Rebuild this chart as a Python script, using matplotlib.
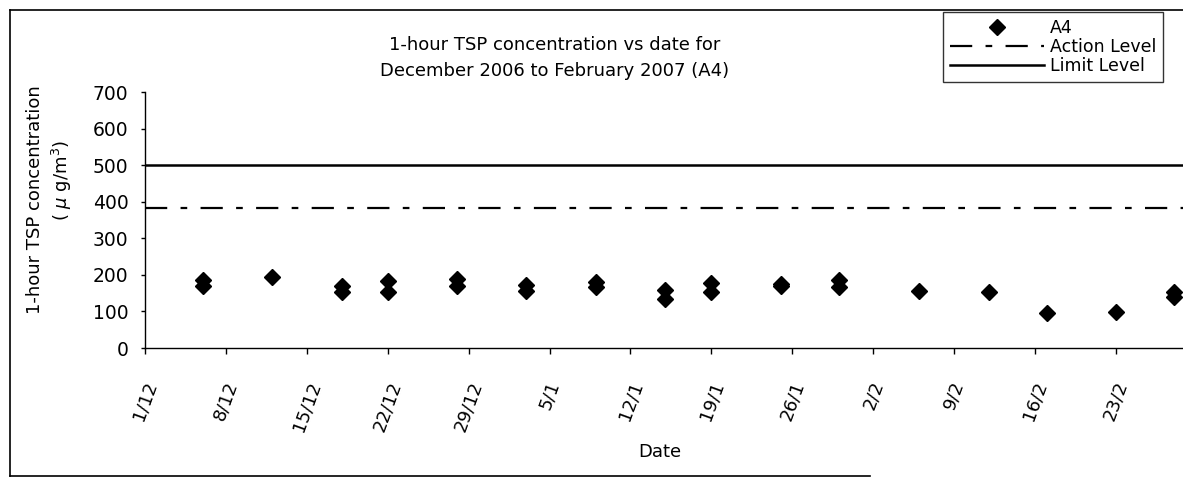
import matplotlib
matplotlib.use("Agg")
import matplotlib.pyplot as plt
import pandas as pd
from matplotlib.lines import Line2D

# ---------------- data ----------------
sample_dates = ["2006-12-06", "2006-12-06", "2006-12-12", "2006-12-18", "2006-12-18",
                "2006-12-22", "2006-12-22", "2006-12-28", "2006-12-28", "2007-01-03",
                "2007-01-03", "2007-01-09", "2007-01-09", "2007-01-15", "2007-01-15",
                "2007-01-19", "2007-01-19", "2007-01-25", "2007-01-25", "2007-01-30",
                "2007-01-30", "2007-02-06", "2007-02-12", "2007-02-17", "2007-02-23",
                "2007-02-28", "2007-02-28"]
tsp_values = [186, 170, 193, 170, 153,
              184, 153, 189, 170, 173,
              156, 181, 167, 159, 134,
              178, 153, 175, 170, 186,
              167, 156, 153, 96, 99,
              153, 140]
action_level = 384
limit_level = 500

tick_dates = ["2006-12-01", "2006-12-08", "2006-12-15", "2006-12-22", "2006-12-29",
              "2007-01-05", "2007-01-12", "2007-01-19", "2007-01-26", "2007-02-02",
              "2007-02-09", "2007-02-16", "2007-02-23"]
tick_labels = ["1/12", "8/12", "15/12", "22/12", "29/12", "5/1", "12/1", "19/1",
               "26/1", "2/2", "9/2", "16/2", "23/2"]
y_ticks = [0, 100, 200, 300, 400, 500, 600, 700]

title_text = "1-hour TSP concentration vs date for\nDecember 2006 to February 2007 (A4)"
ylabel_1 = "1-hour TSP concentration"
ylabel_2 = "( $\\mu$ g/m$^3$)"
xlabel = "Date"

# ---------------- figure ----------------
plt.rcParams["font.family"] = ["DejaVu Sans"]
W, H = 1183, 482
fig = plt.figure(figsize=(W / 100, H / 100), dpi=100)
ax = fig.add_axes([145 / W, 1 - 348 / H, (W - 145) / W, (348 - 92) / H])

x = pd.to_datetime(sample_dates)
ax.plot(x, tsp_values, linestyle="none", marker="D", markersize=8,
        color="black", label="A4", zorder=3)
ax.axhline(action_level, color="black", lw=1.6, dashes=(10, 6, 3, 6),
           label="Action Level")
ax.axhline(limit_level, color="black", lw=1.8, label="Limit Level")

x0 = pd.Timestamp("2006-12-01")
ax.set_xlim(x0, x0 + pd.Timedelta(days=89.8))
ax.set_ylim(0, 700)
ax.set_yticks(y_ticks)
ax.set_yticklabels([str(v) for v in y_ticks], fontsize=13.5)
ax.set_xticks(pd.to_datetime(tick_dates))
ax.set_xticklabels(tick_labels, rotation=70, ha="center", fontsize=13)
ax.tick_params(axis="y", direction="out", length=3, width=1, pad=9)
ax.tick_params(axis="x", direction="out", length=4, width=1, pad=18)

for s in ["top", "right"]:
    ax.spines[s].set_visible(False)
for s in ["left", "bottom"]:
    ax.spines[s].set_linewidth(1.0)
    ax.spines[s].set_color("black")
ax.patch.set_alpha(0)

# titles / labels
fig.text(555 / W, 1 - 58 / H, title_text, ha="center", va="center",
         fontsize=13, linespacing=1.5)
fig.text(35 / W, 1 - 200 / H, ylabel_1, rotation=90, ha="center", va="center",
         fontsize=13)
fig.text(62 / W, 1 - 180 / H, ylabel_2, rotation=90, ha="center", va="center",
         fontsize=13)
fig.text(660 / W, 1 - 452 / H, xlabel, ha="center", va="center", fontsize=13)

# legend
leg = fig.legend(loc="upper left", bbox_to_anchor=(943 / W, 1 - 12 / H),
                 frameon=True, fancybox=False, fontsize=12.5, handlelength=5.4,
                 handletextpad=0.35, labelspacing=0.05, borderpad=0.4,
                 borderaxespad=0, numpoints=1)
leg.get_frame().set_edgecolor("black")
leg.get_frame().set_linewidth(1.0)

# outer chart border
fig.add_artist(Line2D([10 / W, 10 / W], [1 - 10 / H, 1 - 476 / H],
                      transform=fig.transFigure, color="black", lw=1.2))
fig.add_artist(Line2D([10 / W, 1.0], [1 - 10 / H, 1 - 10 / H],
                      transform=fig.transFigure, color="black", lw=1.2))
fig.add_artist(Line2D([10 / W, 870 / W], [1 - 476 / H, 1 - 476 / H],
                      transform=fig.transFigure, color="black", lw=1.2))

fig.savefig("out.png", dpi=100, facecolor="white")
